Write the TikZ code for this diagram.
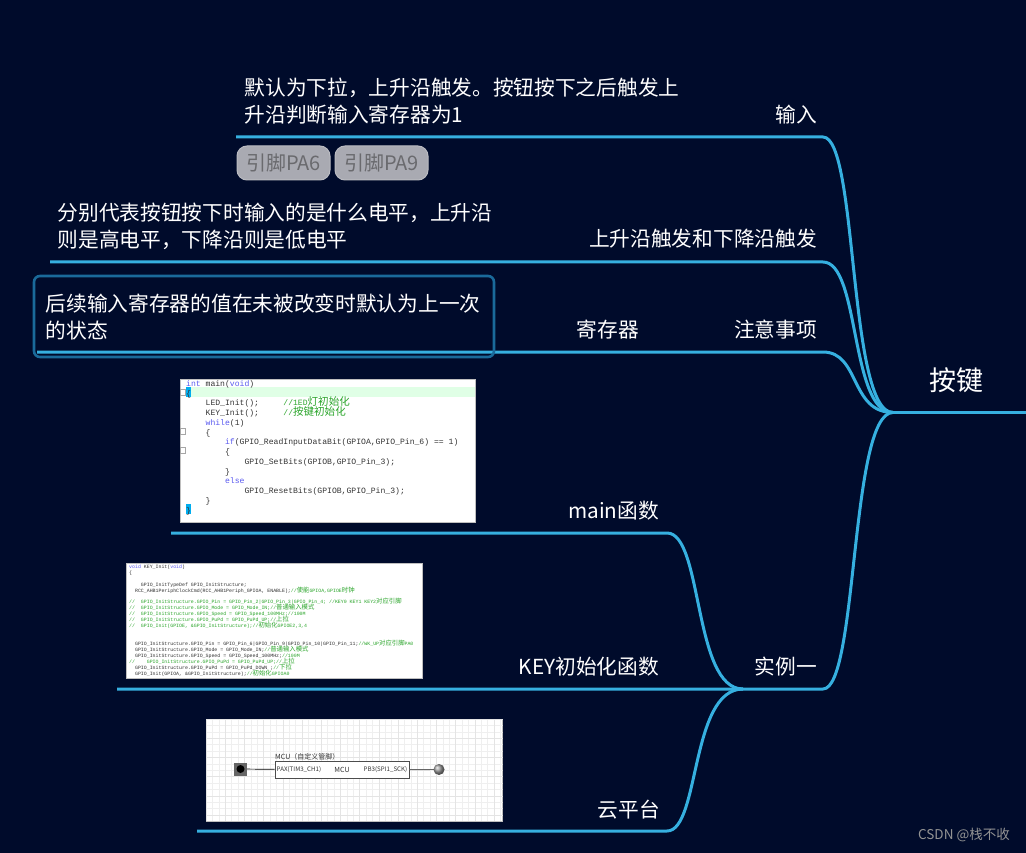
\documentclass[tikz,border=0pt]{standalone}
\usepackage{xcolor}
\usepackage{fontspec}
\setmainfont{Noto Sans CJK SC}
\setmonofont{Liberation Mono}
\newfontfamily\cjkcode[Scale=1.3]{Noto Sans CJK SC}
\usetikzlibrary{positioning}
\definecolor{mapbg}{HTML}{000B2B}
\definecolor{branchblue}{HTML}{36B0E0}
\definecolor{boxblue}{HTML}{1A6A9A}
\definecolor{chipfill}{HTML}{A9AAB2}
\definecolor{chiptext}{HTML}{6A6A6E}
\definecolor{codegreen}{HTML}{2AA52A}
\definecolor{codekey}{HTML}{5A5AF0}
\definecolor{codeband}{HTML}{E0FFE6}
\definecolor{gridline}{HTML}{E4E4E4}
\newcommand{\cmt}[1]{\textcolor{codegreen}{#1}}
\newcommand{\kw}[1]{\textcolor{codekey}{#1}}
\newcommand{\zh}[1]{\textcolor{codegreen}{\smash{\cjkcode #1}}}
\newcommand{\tabin}[1]{\hspace*{#1\dimexpr0.6em\relax}}
\tikzset{
  branch/.style={draw=branchblue, line width=3pt},
  label/.style={text=white, anchor=east, inner sep=0pt},
  note/.style={text=white, anchor=west, inner sep=0pt, align=left},
  chip/.style={draw=chipfill!80!white, fill=chipfill, text=chiptext, rounded corners=10pt,
    minimum width=93pt, minimum height=34pt, inner sep=0pt, line width=1pt, font=\fontsize{20}{24}\selectfont},
  shot/.style={fill=white, draw=gray!50, line width=0.8pt},
  code/.style={anchor=north west, inner sep=0pt, align=left, text=black!80},
  pinlabel/.style={font=\fontsize{6.2}{7}\selectfont, text=black!80, inner sep=0pt}
}
\begin{document}
\begin{tikzpicture}[x=1pt, y=-1pt, font=\fontsize{20.7}{27.5}\selectfont]
  \useasboundingbox (0,0) rectangle (1026,853);
  \fill[mapbg] (0,0) rectangle (1026,853);

  % screenshots
  \draw[shot] (180,379) rectangle (475.5,522);
  \fill[codeband] (186,387) rectangle (475,397);
  \fill[cyan] (186,387) rectangle (191,397);
  \fill[cyan] (186,504) rectangle (191,514);
  \foreach \y in {392,431,450} {
    \draw[gray!70, line width=0.5pt] (180,\y-3) rectangle (185,\y+3);
  }
  \node[code, font=\ttfamily\fontsize{8.1}{9.75}\selectfont] (mainCode) at (186,380.2) {
    \kw{int} main(\kw{void})\\
    \{\\
    \tabin{4}LED\_Init();\tabin{5}\cmt{//1ED}\zh{灯初始化}\\
    \tabin{4}KEY\_Init();\tabin{5}\cmt{//}\zh{按键初始化}\\
    \tabin{4}\kw{while}(1)\\
    \tabin{4}\{\\
    \tabin{8}\kw{if}(GPIO\_ReadInputDataBit(GPIOA,GPIO\_Pin\_6) == 1)\\
    \tabin{8}\{\\
    \tabin{12}GPIO\_SetBits(GPIOB,GPIO\_Pin\_3);\\
    \tabin{8}\}\\
    \tabin{8}\kw{else}\\
    \tabin{12}GPIO\_ResetBits(GPIOB,GPIO\_Pin\_3);\\
    \tabin{4}\}\\
    \}};

  \draw[shot] (126,563) rectangle (422,678);
  \node[code, font=\ttfamily\fontsize{4.9}{5.94}\selectfont] (keyCode) at (129,564.5) {
    \kw{void} KEY\_Init(\kw{void})\\
    \{\\
    ~\\
    \tabin{4}GPIO\_InitTypeDef  GPIO\_InitStructure;\\
    \tabin{2}RCC\_AHB1PeriphClockCmd(RCC\_AHB1Periph\_GPIOA, ENABLE);\cmt{//}\zh{使能}\cmt{GPIOA,GPIOE}\zh{时钟}\\
    ~\\
    \cmt{//\tabin{2}GPIO\_InitStructure.GPIO\_Pin = GPIO\_Pin\_2|GPIO\_Pin\_3|GPIO\_Pin\_4; //KEY0 KEY1 KEY2}\zh{对应引脚}\\
    \cmt{//\tabin{2}GPIO\_InitStructure.GPIO\_Mode = GPIO\_Mode\_IN;//}\zh{普通输入模式}\\
    \cmt{//\tabin{2}GPIO\_InitStructure.GPIO\_Speed = GPIO\_Speed\_100MHz;//100M}\\
    \cmt{//\tabin{2}GPIO\_InitStructure.GPIO\_PuPd = GPIO\_PuPd\_UP;//}\zh{上拉}\\
    \cmt{//\tabin{2}GPIO\_Init(GPIOE, \&GPIO\_InitStructure);//}\zh{初始化}\cmt{GPIOE2,3,4}\\
    ~\\
    ~\\
    \tabin{2}GPIO\_InitStructure.GPIO\_Pin = GPIO\_Pin\_6|GPIO\_Pin\_9|GPIO\_Pin\_10|GPIO\_Pin\_11;\cmt{//WK\_UP}\zh{对应引脚}\cmt{PA0}\\
    \tabin{2}GPIO\_InitStructure.GPIO\_Mode = GPIO\_Mode\_IN;\cmt{//}\zh{普通输入模式}\\
    \tabin{2}GPIO\_InitStructure.GPIO\_Speed = GPIO\_Speed\_100MHz;\cmt{//100M}\\
    \cmt{//\tabin{4}GPIO\_InitStructure.GPIO\_PuPd = GPIO\_PuPd\_UP;//}\zh{上拉}\\
    \tabin{2}GPIO\_InitStructure.GPIO\_PuPd = GPIO\_PuPd\_DOWN ;\cmt{//}\zh{下拉}\\
    \tabin{2}GPIO\_Init(GPIOA, \&GPIO\_InitStructure);\cmt{//}\zh{初始化}\cmt{GPIOA0}};

  \draw[shot] (206,719) rectangle (502.5,821);
  \begin{scope}
    \clip (206,719) rectangle (502.5,821);
    \draw[gridline!60, line width=0.3pt, shift={(206,719)}] (0,0) grid[xstep=6.4pt, ystep=6.4pt] (297,102);
    \draw[gridline, line width=0.5pt, shift={(206,719)}] (0,0) grid[xstep=19.2pt, ystep=19.2pt] (297,102);
  \end{scope}
  \node[draw=black!70, fill=white, line width=0.8pt, minimum width=134pt, minimum height=17pt, inner sep=0pt] (mcuBox) at (342,770) {};
  \node[pinlabel, font=\fontsize{7}{8}\selectfont, anchor=south west] (mcuTitle) at (275,760.5) {MCU（自定义管脚）};
  \node[pinlabel, anchor=west] (pinIn) at (276.5,770) {PAX(TIM3\_CH1)};
  \node[pinlabel, font=\fontsize{7}{8}\selectfont] (pinMid) at (342,769.5) {MCU};
  \node[pinlabel, anchor=east] (pinOut) at (407.5,770) {PB3(SPI1\_SCK)};
  \node[fill=black!60, minimum size=13pt, inner sep=0pt] (keyBtn) at (240.5,769) {};
  \node[circle, fill=black, minimum size=8pt, inner sep=0pt] (keyCap) at (keyBtn) {};
  \node[circle, ball color=gray!80, minimum size=11pt, inner sep=0pt] (ledBall) at (439,769.5) {};
  \draw[black, line width=0.7pt] (keyBtn) -- (mcuBox);
  \draw[black!60, line width=0.9pt] (mcuBox) -- (ledBall);

  % branches
  \coordinate (root) at (893,412.5);
  \coordinate (rootEnd) at (1026,412.5);
  \coordinate (inputStart) at (236,137);
  \coordinate (edgeStart) at (50,262);
  \coordinate (regStart) at (37,352);
  \coordinate (keyStart) at (117,689);
  \coordinate (mainStart) at (171,533);
  \coordinate (cloudStart) at (197,831);
  \coordinate (caseJoin) at (743,689);

  \draw[branch, line width=3.8pt] (root) -- (rootEnd);
  \draw[branch] (inputStart) -- (823,137) .. controls (858,137) and (848,412.5) .. (root);
  \draw[branch] (edgeStart) -- (823,262) .. controls (860,262) and (850,412.5) .. (root);
  \draw[branch] (regStart) -- (823,352) .. controls (860,352) and (850,412.5) .. (root);
  \draw[branch] (keyStart) -- (823,689) .. controls (858,689) and (850,412.5) .. (root);
  \draw[branch] (mainStart) -- (667,533) .. controls (703,533) and (693,689) .. (caseJoin);
  \draw[branch] (cloudStart) -- (667,831) .. controls (700,831) and (690,689) .. (caseJoin);

  \draw[draw=boxblue, line width=2.6pt, rounded corners=6pt] (34,276) rectangle (494,357);

  % labels
  \node[label, font=\fontsize{27}{30}\selectfont, anchor=center] (rootText) at (956,380) {按键};
  \node[label] (inputText) at (817,115) {输入};
  \node[label] (edgeText) at (817,239) {上升沿触发和下降沿触发};
  \node[label] (noteText) at (817,330) {注意事项};
  \node[label] (regText) at (639,330) {寄存器};
  \node[label] (caseText) at (817,667) {实例一};
  \node[label] (mainText) at (659,511) {main函数};
  \node[label] (keyText) at (659,667) {KEY初始化函数};
  \node[label] (cloudText) at (660,810) {云平台};

  \node[note] (inputNote) at (244.5,101) {默认为下拉，上升沿触发。按钮按下之后触发上\\升沿判断输入寄存器为1};
  \node[note] (edgeNote) at (57.5,226.5) {分别代表按钮按下时输入的是什么电平，上升沿\\则是高电平，下降沿则是低电平};
  \node[note] (regNote) at (45.5,317) {后续输入寄存器的值在未被改变时默认为上一次\\的状态};

  \node[chip] (chipSix) at (283.5,163) {引脚PA6};
  \node[chip, right=4pt of chipSix] (chipNine) {引脚PA9};

  \node[text=gray!85, font=\fontsize{13.5}{15}\selectfont, anchor=east, inner sep=0pt] (markText) at (1010,835) {CSDN @栈不收};
\end{tikzpicture}
\end{document}
